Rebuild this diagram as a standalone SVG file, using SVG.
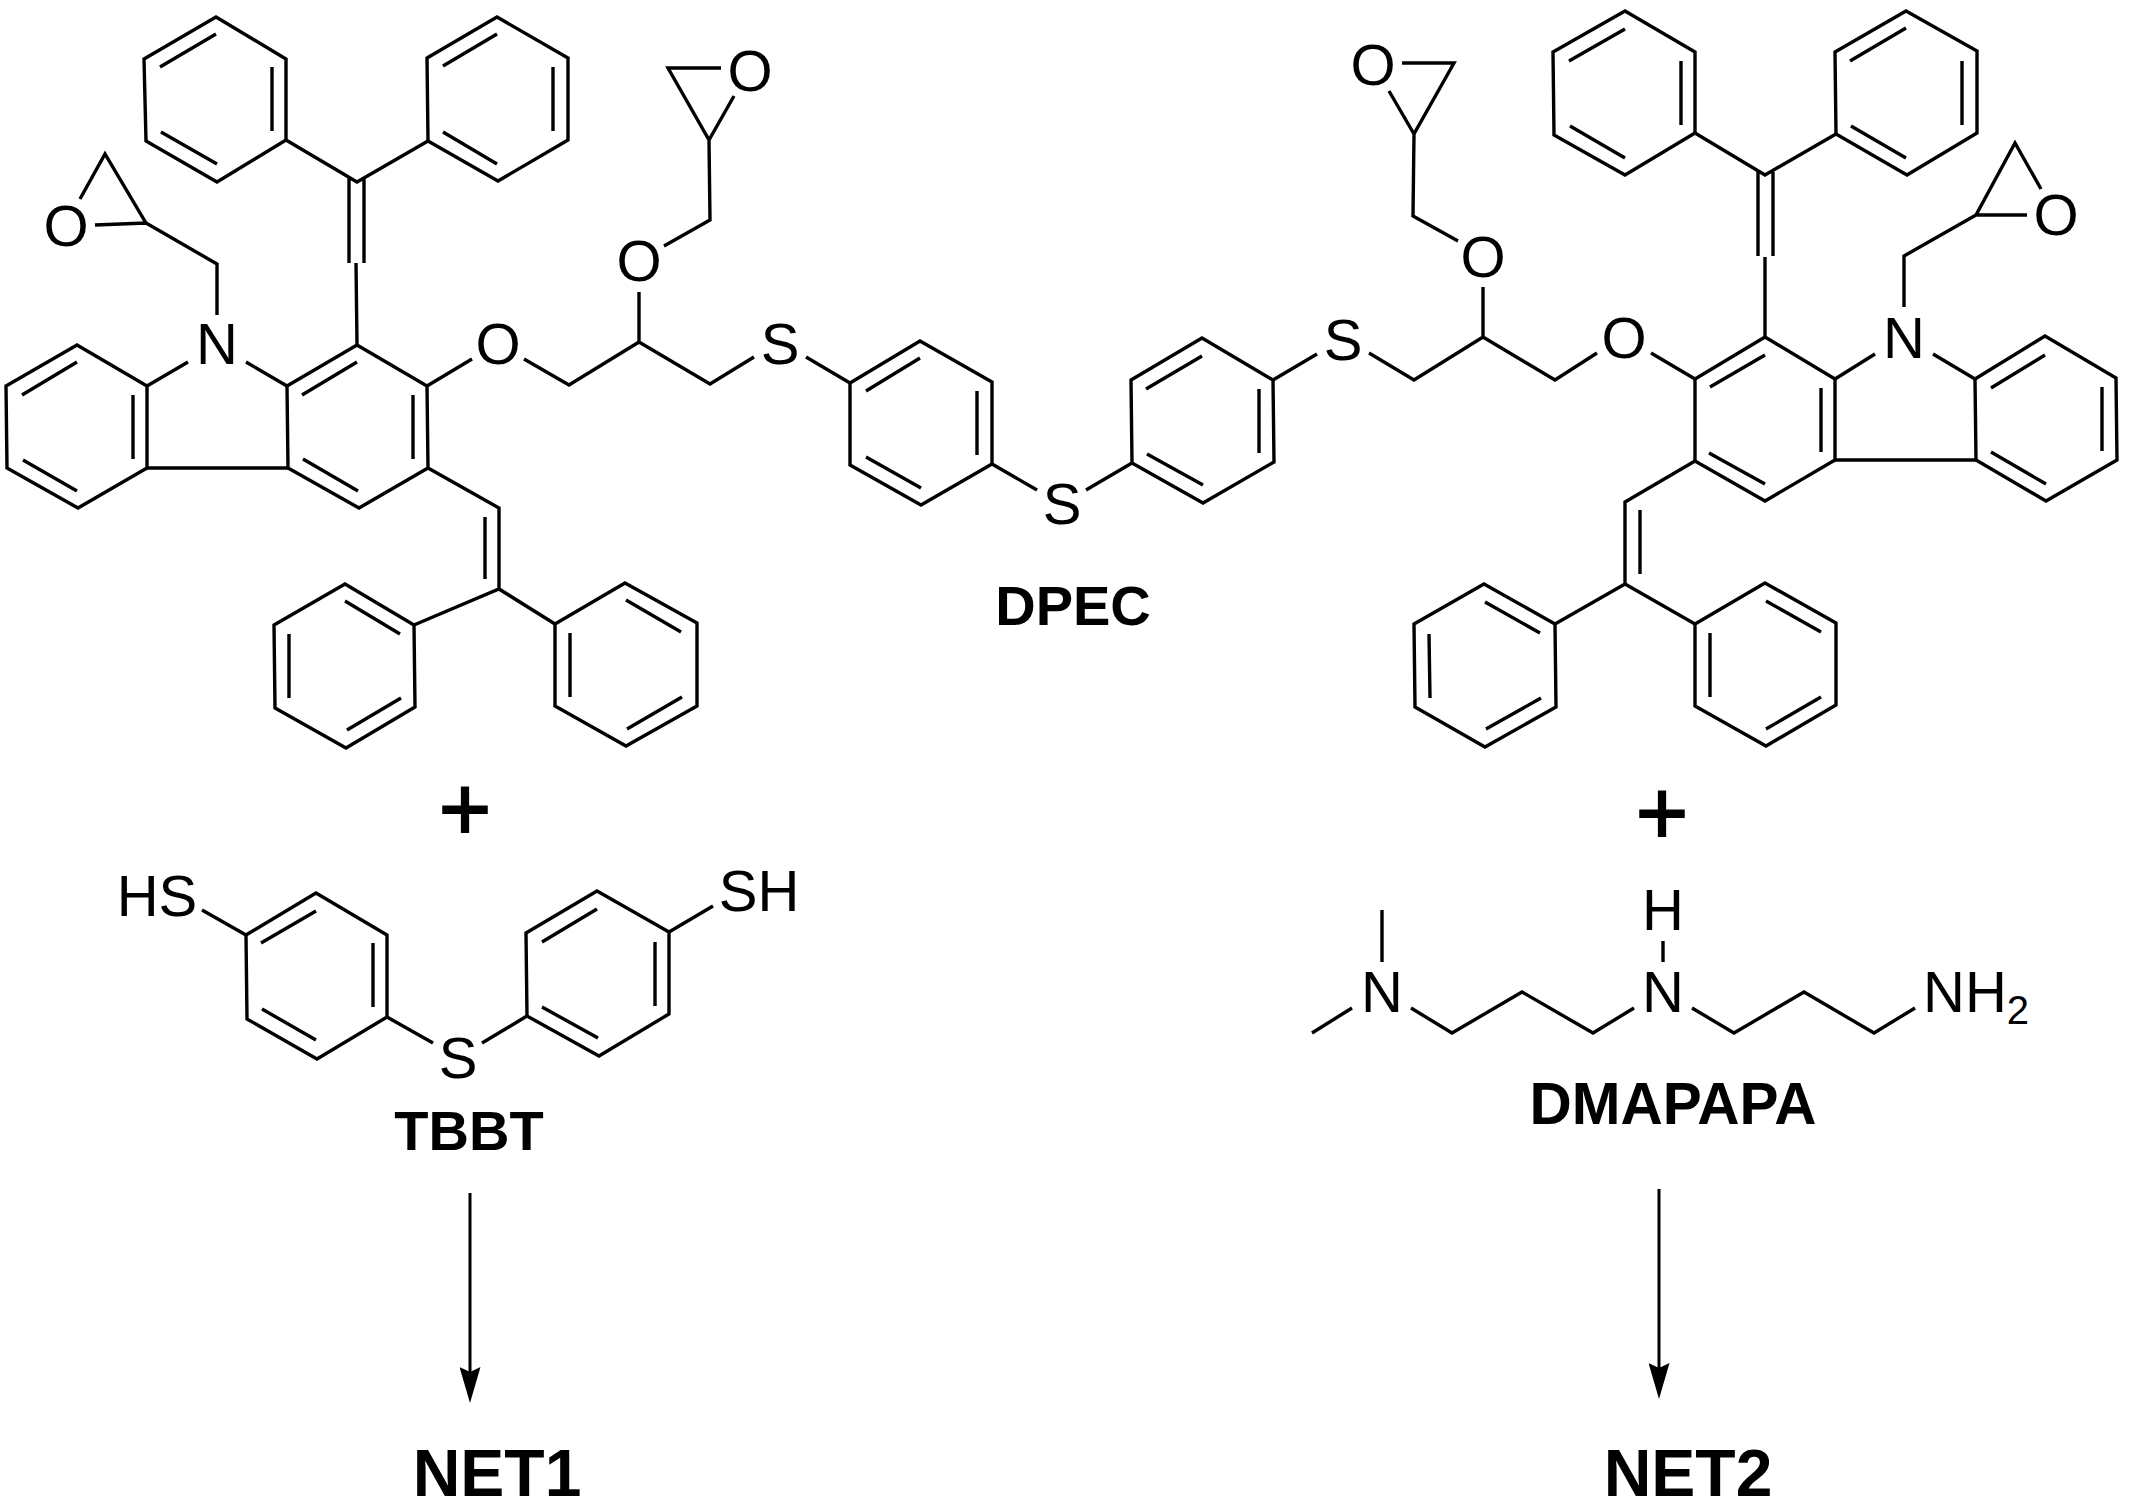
<svg xmlns="http://www.w3.org/2000/svg" width="2132" height="1508" viewBox="0 0 2132 1508">
<style>
.b{fill:none;stroke:#000;stroke-width:3.4;stroke-linejoin:miter;stroke-linecap:butt}
.a{stroke:#000;stroke-width:3;fill:none}
text{font-family:"Liberation Sans",Arial,sans-serif;fill:#000;text-anchor:middle}
.t{font-size:58px}
.l{font-size:56px;font-weight:700}
.w{font-size:58.5px;font-weight:700}
.n{font-size:66px;font-weight:700}
.p{font-size:90px;stroke:#000;stroke-width:1.8}
</style>
<defs>
<marker id="head" markerUnits="userSpaceOnUse" markerWidth="36" markerHeight="21" refX="5" refY="10.5" orient="auto"><path d="M0,0L36,10.5L0,21L5,10.5Z" fill="#000"/></marker>
</defs>
<rect width="2132" height="1508" fill="#fff"/>
<g id="connectors">
<g id="bonds-dpec-left">
<polygon class="b" points="216,17 286,59 286,140 217,182 146,141 144,59"/>
<path class="b" d="M160,67L216,34M272,67L272,131M161,132L217,164"/>
<polygon class="b" points="497,17 568,58 568,140 498,181 428,141 427,58"/>
<path class="b" d="M443,66L497,34M553,67L553,131M443,132L497,164"/>
<path class="b" d="M286,140L357,182L428,141M349,178L349,263M364,178L364,263M356,263L357,345"/>
<polygon class="b" points="357,345 427,386 428,468 359,508 288,468 287,386"/>
<path class="b" d="M302,395L357,362M413,395L413,459M303,459L358,491"/>
<polygon class="b" points="77,345 147,386 147,468 78,508 7,468 6,386"/>
<path class="b" d="M22,395L77,362M133,395L133,459M23,460L77,491M147,468L288,468M147,386L188,362M246,362L287,386"/>
<path class="b" d="M217,315L217,264L146,223L105,154L80,199M146,223L95,225"/>
<path class="b" d="M427,386L472,359M524,359L569,385L639,342L710,384L754,357M639,342L639,292M664,246L710,220L709,140L668,68L721,68M709,140L734,96"/>
<path class="b" d="M428,468L499,508L499,589M485,517L485,579M414,625L499,589L555,624"/>
<polygon class="b" points="345,584 414,625 415,707 346,748 275,708 274,625"/>
<path class="b" d="M345,601L400,634M289,634L289,698M347,730L401,698"/>
<polygon class="b" points="625,583 697,623 697,706 626,746 555,706 555,624"/>
<path class="b" d="M626,600L681,632M570,633L570,697M627,729L682,697"/>
</g>
<g id="bonds-dpec-middle">
<path class="b" d="M806,357L850,383"/>
<polygon class="b" points="920,341 992,382 992,464 921,505 850,465 850,383"/>
<path class="b" d="M866,391L920,358M977,391L977,455M866,457L921,488M992,464L1037,490M1086,490L1132,463"/>
<polygon class="b" points="1202,338 1273,380 1274,462 1203,503 1132,463 1131,380"/>
<path class="b" d="M1146,389L1202,356M1259,389L1259,453M1147,454L1203,485M1273,380L1317,354"/>
</g>
<g id="bonds-dpec-right">
<polygon class="b" points="1625,11 1695,52 1695,133 1625,175 1554,135 1553,52"/>
<path class="b" d="M1569,61L1625,29M1681,61L1681,125M1570,126L1625,158"/>
<polygon class="b" points="1906,11 1977,51 1977,133 1907,175 1836,134 1835,52"/>
<path class="b" d="M1850,61L1906,28M1962,61L1962,125M1851,126L1906,158"/>
<path class="b" d="M1695,133L1765,175L1836,134M1758,172L1758,256M1773,172L1773,256M1765,257L1765,337"/>
<polygon class="b" points="1765,337 1835,379 1835,460 1765,501 1695,461 1695,379"/>
<path class="b" d="M1710,387L1765,355M1821,388L1821,452M1709,453L1765,484"/>
<polygon class="b" points="2045,336 1975,379 1976,460 2046,501 2117,460 2116,378"/>
<path class="b" d="M1991,388L2045,355M2102,387L2102,451M1991,452L2046,484M1835,460L1976,460M1835,379L1875,354M1933,354L1975,379"/>
<path class="b" d="M1904,307L1904,256L1976,215L2015,143L2041,189M1976,215L2027,215"/>
<path class="b" d="M1695,379L1651,353M1597,353L1555,380L1483,337L1414,380L1369,353M1483,337L1483,287M1458,241L1413,216L1414,134L1454,63L1402,63M1414,134L1389,91"/>
<path class="b" d="M1695,461L1625,502L1625,584M1640,510L1640,574M1555,624L1625,584L1695,624"/>
<polygon class="b" points="1484,584 1555,624 1556,707 1485,747 1415,707 1414,624"/>
<path class="b" d="M1485,602L1540,633M1429,634L1430,698M1486,729L1541,698"/>
<polygon class="b" points="1765,583 1836,623 1836,705 1766,746 1695,706 1695,624"/>
<path class="b" d="M1766,601L1821,632M1710,633L1710,697M1766,729L1821,697"/>
</g>
<g id="bonds-tbbt">
<path class="b" d="M202,910L246,935"/>
<polygon class="b" points="316,893 387,935 387,1017 317,1059 247,1019 246,935"/>
<path class="b" d="M261,943L316,911M373,943L373,1007M262,1009L316,1040M387,1017L433,1043M482,1043L527,1016"/>
<polygon class="b" points="597,891 669,932 669,1014 599,1056 527,1016 526,933"/>
<path class="b" d="M542,942L597,909M655,942L655,1006M542,1007L598,1038M669,932L713,906"/>
</g>
<g id="bonds-dmapapa">
<path class="b" d="M1382,962L1382,910M1352,1008L1312,1033M1411,1008L1452,1033L1522,992L1593,1033L1634,1008M1663,941L1663,962M1692,1008L1734,1033L1804,992L1874,1033L1915,1008"/>
</g>
<g id="arrows">
<line class="a" x1="470" y1="1193" x2="470" y2="1372" marker-end="url(#head)"/>
<line class="a" x1="1659" y1="1189" x2="1659" y2="1368" marker-end="url(#head)"/>
</g>
</g>
<g id="dpec-atoms">
<text class="t" x="66" y="246">O</text>
<text class="t" x="217" y="364">N</text>
<text class="t" x="498" y="364">O</text>
<text class="t" x="639" y="281">O</text>
<text class="t" x="750" y="91">O</text>
<text class="t" x="780" y="364">S</text>
<text class="t" x="1062" y="524">S</text>
<text class="t" x="1343" y="360">S</text>
<text class="t" x="1373" y="85">O</text>
<text class="t" x="1483" y="277">O</text>
<text class="t" x="1624" y="358">O</text>
<text class="t" x="1904" y="358">N</text>
<text class="t" x="2056" y="235">O</text>
</g>
<g id="dpec-label"><text class="l" x="1073" y="625">DPEC</text></g>
<g id="plus-left"><text class="p" x="465" y="840">+</text></g>
<g id="plus-right"><text class="p" x="1662" y="844">+</text></g>
<g id="tbbt-atoms">
<text class="t" x="157" y="916">HS</text>
<text class="t" x="458" y="1078">S</text>
<text class="t" x="759" y="911">SH</text>
</g>
<g id="tbbt-label"><text class="l" x="469" y="1150">TBBT</text></g>
<g id="dmapapa-atoms">
<text class="t" x="1382" y="1012">N</text>
<text class="t" x="1663" y="1012">N</text>
<text class="t" x="1663" y="930">H</text>
<text class="t" x="1923" y="1012" style="text-anchor:start">NH<tspan font-size="40" dy="12">2</tspan></text>
</g>
<g id="dmapapa-label"><text class="w" x="1673" y="1124">DMAPAPA</text></g>
<g id="net1"><text class="n" x="497" y="1496">NET1</text></g>
<g id="net2"><text class="n" x="1688" y="1496">NET2</text></g>
</svg>
